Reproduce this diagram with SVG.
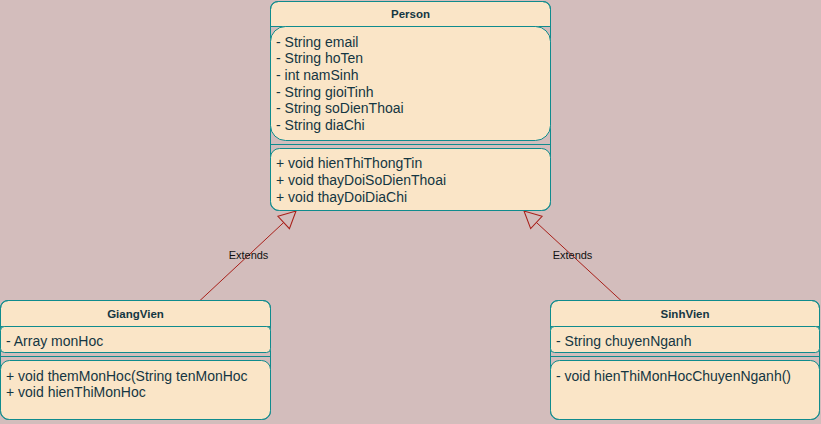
<svg xmlns="http://www.w3.org/2000/svg" width="821" height="424" viewBox="0 0 821 424">
<defs>
<style>
.box{fill:#FAE5C7;stroke:#0F8B8D;stroke-width:1}
.outer{fill:none;stroke:#0F8B8D;stroke-width:1}
.sep{stroke:#0F8B8D;stroke-width:1}
.title{font-family:"Liberation Sans",Arial,sans-serif;font-size:11.5px;font-weight:bold;fill:#143642;text-anchor:middle}
.t{font-family:"Liberation Sans",Arial,sans-serif;font-size:14px;fill:#143642}
.lbl{font-family:"Liberation Sans",Arial,sans-serif;font-size:11px;fill:#111;text-anchor:middle}
.edge{stroke:#A8201A;stroke-width:1;fill:none}
</style>
<marker id="inh" markerUnits="userSpaceOnUse" markerWidth="20" markerHeight="20" viewBox="-1 -9 19 18" refX="16" refY="0" orient="auto">
<path d="M0,-8 L16,0 L0,8 Z" fill="#D3BDBC" stroke="#A8201A" stroke-width="1"/>
</marker>
</defs>
<rect width="821" height="424" fill="#D3BDBC"/>

<g id="connectors">
<line class="edge" x1="200" y1="300.5" x2="296" y2="211" marker-end="url(#inh)"/>
<text class="lbl" x="248.5" y="259">Extends</text>
<line class="edge" x1="621" y1="300.5" x2="524" y2="211" marker-end="url(#inh)"/>
<text class="lbl" x="572.5" y="259">Extends</text>
</g>

<g id="Person">
<path class="box" d="M270.5,26.5 V9.5 Q270.5,1.5 278.5,1.5 H542.5 Q550.5,1.5 550.5,9.5 V26.5 Z"/>
<rect class="outer" x="270.5" y="1.5" width="280" height="209" rx="8"/>
<rect class="box" x="270.5" y="26.5" width="280" height="114" rx="15"/>
<line class="sep" x1="270.5" y1="144.5" x2="550.5" y2="144.5"/>
<rect class="box" x="270.5" y="148.5" width="280" height="62" rx="9"/>
<text class="title" x="410.5" y="18">Person</text>
<text class="t" x="276" y="46.5">- String email</text>
<text class="t" x="276" y="63.2">- String hoTen</text>
<text class="t" x="276" y="79.9">- int namSinh</text>
<text class="t" x="276" y="96.6">- String gioiTinh</text>
<text class="t" x="276" y="113.3">- String soDienThoai</text>
<text class="t" x="276" y="130">- String diaChi</text>
<text class="t" x="276" y="168.3">+ void hienThiThongTin</text>
<text class="t" x="276" y="185">+ void thayDoiSoDienThoai</text>
<text class="t" x="276" y="201.7">+ void thayDoiDiaChi</text>
</g>

<g id="GiangVien">
<path class="box" d="M0.5,326.5 V308.5 Q0.5,300.5 8.5,300.5 H262.5 Q270.5,300.5 270.5,308.5 V326.5 Z"/>
<rect class="outer" x="0.5" y="300.5" width="270" height="119" rx="8"/>
<rect class="box" x="0.5" y="326.5" width="270" height="26" rx="4"/>
<line class="sep" x1="0.5" y1="356.5" x2="270.5" y2="356.5"/>
<rect class="box" x="0.5" y="360.5" width="270" height="59" rx="9"/>
<text class="title" x="135.5" y="317.7">GiangVien</text>
<text class="t" x="6" y="346">- Array monHoc</text>
<text class="t" x="6" y="380.7">+ void themMonHoc(String tenMonHoc</text>
<text class="t" x="6" y="397.3">+ void hienThiMonHoc</text>
</g>

<g id="SinhVien">
<path class="box" d="M550.5,326.5 V308.5 Q550.5,300.5 558.5,300.5 H811.5 Q819.5,300.5 819.5,308.5 V326.5 Z"/>
<rect class="outer" x="550.5" y="300.5" width="269" height="119" rx="8"/>
<rect class="box" x="550.5" y="326.5" width="269" height="26" rx="4"/>
<line class="sep" x1="550.5" y1="356.5" x2="819.5" y2="356.5"/>
<rect class="box" x="550.5" y="360.5" width="269" height="59" rx="9"/>
<text class="title" x="685" y="317.7">SinhVien</text>
<text class="t" x="556" y="346">- String chuyenNganh</text>
<text class="t" x="556" y="380.7">- void hienThiMonHocChuyenNganh()</text>
</g>
</svg>
